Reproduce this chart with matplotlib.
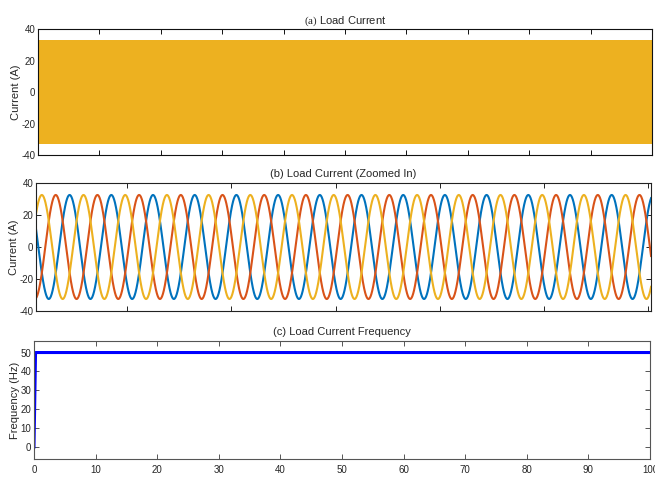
import numpy as np
import matplotlib
matplotlib.use("Agg")
import matplotlib.pyplot as plt

plt.rcParams['font.family'] = ['Liberation Sans', 'DejaVu Sans']
plt.rcParams['mathtext.fontset'] = 'custom'
plt.rcParams['mathtext.rm'] = 'Liberation Serif'
plt.rcParams['axes.unicode_minus'] = False

# three phase load current
amp = 32.5            # A, peak
f_line = 50.0         # Hz
phase_deg = {'a': 46.6, 'b': 166.6, 'c': -73.4}   # blue, red, yellow
phase_colors = {'a': '#0072BD', 'b': '#D95319', 'c': '#EDB120'}

# (a) whole run
full_range = [0, 100]
full_ticks = [0, 10, 20, 30, 40, 50, 60, 70, 80, 90, 100]
# (b) zoomed window
zoom_range = [0.2063, 0.5013]
zoom_ticks = [0.25, 0.30, 0.35, 0.40, 0.45, 0.50]
# (c) measured frequency
freq_time = [0, 0.25, 100]
freq_hz = [0, 50, 50]

cur_ticks = [-40, -20, 0, 20, 40]
freq_yticks = [0, 10, 20, 30, 40, 50]

axcol = '#333333'
txtcol = '#262626'


def phase_current(t, key):
    return amp * np.sin(2 * np.pi * f_line * t + np.deg2rad(phase_deg[key]))


def style(ax, spine_col=axcol):
    for s in ax.spines.values():
        s.set_color(spine_col)
        s.set_linewidth(0.8)
    ax.tick_params(direction='in', top=True, right=True, length=3.5,
                   width=0.7, colors=spine_col, labelcolor=txtcol,
                   labelsize=7, pad=2)


fig = plt.figure(figsize=(6.55, 4.78), dpi=100)
ax1 = fig.add_axes([0.058, 0.6757, 0.9374, 0.2636])
ax2 = fig.add_axes([0.055, 0.3494, 0.939, 0.2678])
ax3 = fig.add_axes([0.0519, 0.0397, 0.9405, 0.2469])

# (a)
t_full = np.linspace(full_range[0], full_range[1], 400001)
for k in ['a', 'b', 'c']:
    ax1.plot(t_full, phase_current(t_full, k), color=phase_colors[k], lw=0.8)
ax1.set_xlim(full_range)
ax1.set_ylim(-40, 40)
ax1.set_xticks(full_ticks)
ax1.set_xticklabels([])
ax1.set_yticks(cur_ticks)
ax1.set_ylabel('Current (A)', fontsize=8, color=txtcol, labelpad=0)
ax1.set_title(r'$\mathrm{(a)}$ Load Current', fontsize=8, color=txtcol, pad=4)
style(ax1, '#111111')

# (b)
t_zoom = np.linspace(zoom_range[0], zoom_range[1], 3000)
for k in ['a', 'b', 'c']:
    ax2.plot(t_zoom, phase_current(t_zoom, k), color=phase_colors[k], lw=1.5)
ax2.set_xlim(zoom_range)
ax2.set_ylim(-40, 40)
ax2.set_xticks(zoom_ticks)
ax2.set_xticklabels([])
ax2.set_yticks(cur_ticks)
ax2.set_ylabel('Current (A)', fontsize=8, color=txtcol, labelpad=0)
ax2.set_title('(b) Load Current (Zoomed In)', fontsize=8, color=txtcol, pad=4)
style(ax2, '#222222')

# (c)
ax3.plot(freq_time, freq_hz, color='#0000FF', lw=2.2)
ax3.set_xlim(full_range)
ax3.set_ylim(-6.4, 56.1)
ax3.set_xticks(full_ticks)
ax3.set_yticks(freq_yticks)
ax3.set_ylabel('Frequency (Hz)', fontsize=8, color=txtcol, labelpad=0)
ax3.set_title('(c) Load Current Frequency', fontsize=8, color=txtcol, pad=4)
style(ax3, '#555555')
ax3.tick_params(axis='x', pad=4)

fig.savefig('out.png', dpi=100)
